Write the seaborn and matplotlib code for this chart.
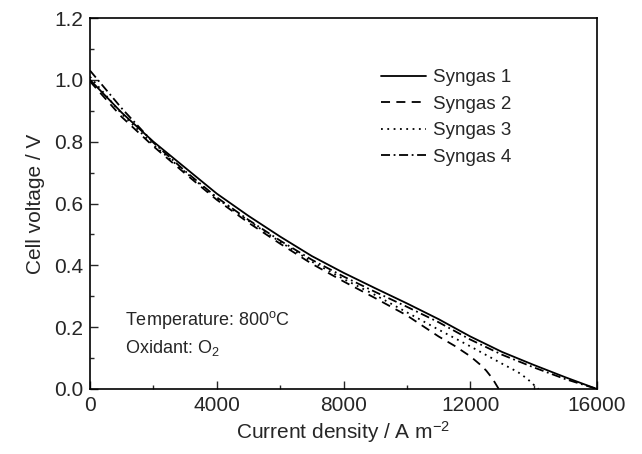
import matplotlib
matplotlib.use("Agg")
import matplotlib.pyplot as plt
import seaborn as sns
import pandas as pd

# ---- data ----
series_names = ["Syngas 1", "Syngas 2", "Syngas 3", "Syngas 4"]

x_syngas1 = [0, 1000, 2000, 3000, 4000, 5000, 6000, 7000, 8000, 9000, 10000,
             11000, 12000, 13000, 14000, 15000, 16000]
v_syngas1 = [1.000, 0.894, 0.800, 0.716, 0.632, 0.560, 0.493, 0.430, 0.376, 0.326,
             0.277, 0.226, 0.170, 0.120, 0.078, 0.038, 0.000]

x_syngas2 = [0, 1000, 2000, 3000, 4000, 5000, 6000, 7000, 8000, 9000, 10000,
             11000, 11500, 12000, 12300, 12500, 12700, 12900]
v_syngas2 = [0.995, 0.880, 0.785, 0.697, 0.612, 0.538, 0.470, 0.405, 0.348, 0.294,
             0.238, 0.170, 0.140, 0.106, 0.080, 0.060, 0.034, 0.000]

x_syngas3 = [0, 1000, 2000, 3000, 4000, 5000, 6000, 7000, 8000, 9000, 10000,
             11000, 12000, 13000, 13500, 13800, 14000, 14150]
v_syngas3 = [1.010, 0.890, 0.790, 0.702, 0.617, 0.544, 0.476, 0.412, 0.356, 0.304,
             0.248, 0.192, 0.138, 0.082, 0.055, 0.033, 0.014, 0.000]

x_syngas4 = [0, 1000, 2000, 3000, 4000, 5000, 6000, 7000, 8000, 9000, 10000,
             11000, 12000, 13000, 14000, 15000, 16000]
v_syngas4 = [1.030, 0.908, 0.797, 0.705, 0.620, 0.547, 0.480, 0.418, 0.364, 0.314,
             0.266, 0.216, 0.160, 0.111, 0.070, 0.032, 0.000]

x_ticks = [0, 4000, 8000, 12000, 16000]
y_ticks = [0.0, 0.2, 0.4, 0.6, 0.8, 1.0, 1.2]

frames = []
for name, xs, vs in zip(series_names,
                        [x_syngas1, x_syngas2, x_syngas3, x_syngas4],
                        [v_syngas1, v_syngas2, v_syngas3, v_syngas4]):
    frames.append(pd.DataFrame({"x": xs, "v": vs, "series": name}))
df = pd.concat(frames, ignore_index=True)

# ---- style ----
sns.set_style("ticks")
plt.rcParams["font.family"] = ["Liberation Sans", "DejaVu Sans"]
plt.rcParams["mathtext.fontset"] = "custom"
plt.rcParams["mathtext.rm"] = "Liberation Sans"
plt.rcParams["mathtext.it"] = "Liberation Sans:italic"
plt.rcParams["mathtext.bf"] = "Liberation Sans:bold"

fig = plt.figure(figsize=(6.42, 4.54), dpi=100)
ax = fig.add_axes([90 / 642, 1 - 389 / 454, 507 / 642, 371 / 454])

dashes = {
    "Syngas 1": "",
    "Syngas 2": (5, 3.5),
    "Syngas 3": (1, 2.5),
    "Syngas 4": (5, 2, 1, 2),
}
palette = {n: "black" for n in series_names}

sns.lineplot(data=df, x="x", y="v", hue="series", style="series",
             hue_order=series_names, style_order=series_names,
             palette=palette, dashes=dashes, estimator=None, sort=True,
             linewidth=1.3, ax=ax)

ax.set_xlim(0, 16000)
ax.set_ylim(0, 1.2)
ax.set_xticks(x_ticks)
ax.set_xticklabels([str(t) for t in x_ticks])
ax.set_yticks(y_ticks)
ax.set_yticklabels([f"{t:.1f}" for t in y_ticks])
ax.set_xticks([2000, 6000, 10000, 14000], minor=True)
ax.set_yticks([0.1, 0.3, 0.5, 0.7, 0.9, 1.1], minor=True)
ax.tick_params(axis="both", which="major", direction="in", length=6, width=1.0,
               labelsize=15, pad=5, top=False, right=False)
ax.tick_params(axis="both", which="minor", direction="in", length=3, width=1.0,
               top=False, right=False)
for sp in ax.spines.values():
    sp.set_visible(True)
    sp.set_linewidth(1.2)
    sp.set_color("black")

ax.set_xlabel("Current density / A m$^{\\mathrm{-2}}$", fontsize=15, labelpad=3)
ax.set_ylabel("Cell voltage / V", fontsize=15, labelpad=6)

leg = ax.legend(loc="upper left", bbox_to_anchor=(0.559, 0.882), frameon=False,
                fontsize=13.5, handlelength=2.4, handletextpad=0.37,
                labelspacing=0.5, borderaxespad=0)
for line in leg.get_lines():
    line.set_linewidth(1.3)

ax.text(0.069, 0.186, "Temperature: 800$^{\\mathrm{o}}$C", transform=ax.transAxes,
        fontsize=13, va="center", ha="left")
ax.text(0.069, 0.110, "Oxidant: O$_{\\mathrm{2}}$", transform=ax.transAxes,
        fontsize=13, va="center", ha="left")

fig.savefig("out.png", dpi=100)
